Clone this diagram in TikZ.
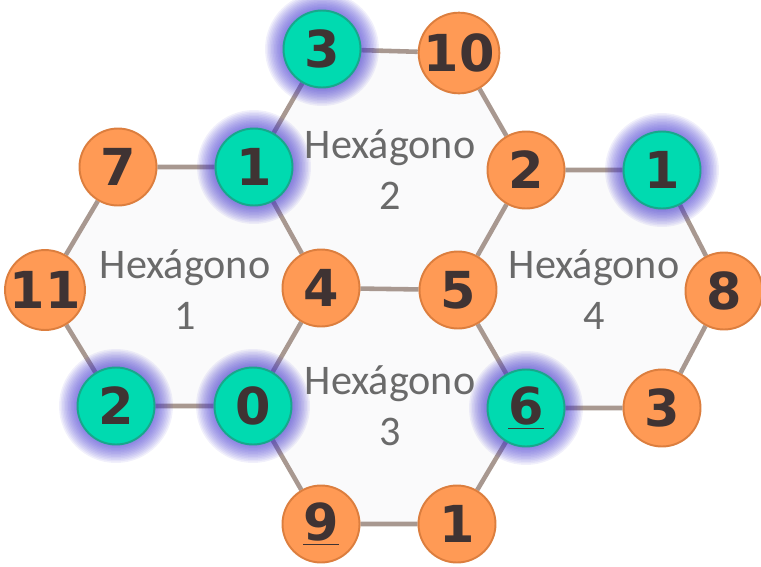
\documentclass[tikz,border=0pt]{standalone}
\usepackage{fontspec}
\setmainfont{Carlito}
\newfontfamily\numfont{DejaVu Sans}
\usepackage{tikz}
\usetikzlibrary{backgrounds}
\definecolor{keyFill}{HTML}{00DAB0}
\definecolor{keyDk}{HTML}{17A88B}
\definecolor{plainFill}{HTML}{FF9A55}
\definecolor{plainDk}{HTML}{DC7E3E}
\definecolor{ink}{HTML}{3F3333}
\definecolor{edgeC}{HTML}{A89890}
\definecolor{glowC}{HTML}{4438D0}
\definecolor{labelC}{HTML}{6A6A6A}
\definecolor{hexFill}{HTML}{FAFAFB}
\newcommand{\halo}[1]{\foreach \r in {0.78,0.81,...,1.14}{\fill[glowC, opacity=0.075] (#1) circle (\r cm);}}

\begin{document}
\begin{tikzpicture}[
  x=0.02cm, y=-0.02cm,
  vnum/.style={circle, line width=1.1pt, minimum size=1.54cm, inner sep=0pt,
               text=ink, font=\numfont\bfseries\fontsize{29}{29}\selectfont},
  vkey/.style={vnum, draw=keyDk, fill=keyFill},
  vplain/.style={vnum, draw=plainDk, fill=plainFill},
  hexlabel/.style={align=center, text=labelC, font=\fontsize{24}{29}\selectfont},
  link/.style={draw=edgeC, line width=2.6pt}
]
  \useasboundingbox (0,0) rectangle (761,566);

  % vertices
  \node[vkey]   (t3)  at (322,49)  {3};
  \node[vplain] (o10) at (459,53)  {10};
  \node[vplain] (o7)  at (118,167) {7};
  \node[vkey]   (t1a) at (254,167) {1};
  \node[vplain] (o2)  at (526,170) {2};
  \node[vkey]   (t1b) at (662,170) {1};
  \node[vplain] (o11) at (45,290)  {11};
  \node[vplain] (o4)  at (321,288) {4};
  \node[vplain] (o5)  at (458,290) {5};
  \node[vplain] (o8)  at (724,291) {8};
  \node[vkey]   (t2)  at (116,406) {2};
  \node[vkey]   (t0)  at (253,406) {0};
  \node[vkey]   (t6)  at (526,408) {\underline{6}};
  \node[vplain] (o3)  at (662,408) {3};
  \node[vplain] (o9)  at (321,524) {\underline{9}};
  \node[vplain] (o1)  at (457,524) {1};

  % hexagon labels
  \node[hexlabel] (h1) at (185,290) {Hexágono\\1};
  \node[hexlabel] (h2) at (390,170) {Hexágono\\2};
  \node[hexlabel] (h3) at (390,406) {Hexágono\\3};
  \node[hexlabel] (h4) at (594,290) {Hexágono\\4};

  \begin{scope}[on background layer]
    \fill[hexFill] (o7.center) -- (t1a.center) -- (o4.center) -- (t0.center) -- (t2.center) -- (o11.center) -- cycle;
    \fill[hexFill] (t3.center) -- (o10.center) -- (o2.center) -- (o5.center) -- (o4.center) -- (t1a.center) -- cycle;
    \fill[hexFill] (o4.center) -- (o5.center) -- (t6.center) -- (o1.center) -- (o9.center) -- (t0.center) -- cycle;
    \fill[hexFill] (o2.center) -- (t1b.center) -- (o8.center) -- (o3.center) -- (t6.center) -- (o5.center) -- cycle;

    \draw[link] (o7) -- (t1a) -- (o4) -- (t0) -- (t2) -- (o11) -- (o7);
    \draw[link] (t1a) -- (t3) -- (o10) -- (o2) -- (o5) -- (o4);
    \draw[link] (o5) -- (t6) -- (o1) -- (o9) -- (t0);
    \draw[link] (o2) -- (t1b) -- (o8) -- (o3) -- (t6);

    \halo{t3} \halo{t1a} \halo{t1b} \halo{t2} \halo{t0} \halo{t6}
  \end{scope}
\end{tikzpicture}
\end{document}
